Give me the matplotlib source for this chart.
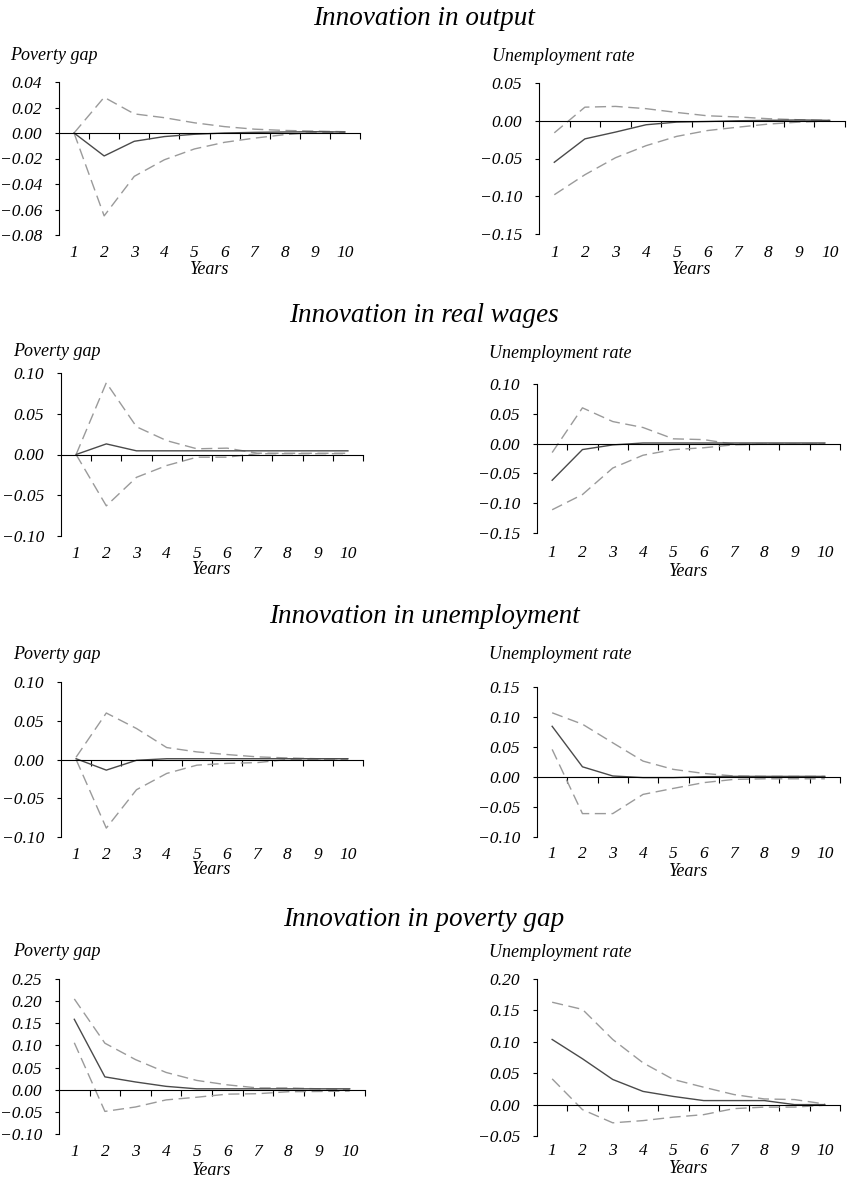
import numpy as np
import matplotlib
matplotlib.use("Agg")
import matplotlib.pyplot as plt
from matplotlib.ticker import FuncFormatter, FixedLocator

# ---------------- data ----------------
years = [1, 2, 3, 4, 5, 6, 7, 8, 9, 10]
year_labels = ["1", "2", "3", "4", "5", "6", "7", "8", "9", "10"]

titles = ["Innovation in output", "Innovation in real wages",
          "Innovation in unemployment", "Innovation in poverty gap"]
ylabels = ["Poverty gap", "Unemployment rate"]
xlabel = "Years"

# Innovation in output
out_pov_mid = [0.0, -0.018, -0.0065, -0.0028, -0.001, 0.0, 0.0005, 0.0008, 0.001, 0.0008]
out_pov_up = [0.0, 0.028, 0.015, 0.012, 0.008, 0.005, 0.003, 0.002, 0.0015, 0.001]
out_pov_lo = [0.0, -0.065, -0.034, -0.021, -0.0125, -0.0073, -0.004, -0.0013, 0.0005, 0.0005]
out_un_mid = [-0.055, -0.024, -0.015, -0.0053, -0.0018, -0.001, 0.0, 0.0005, 0.001, 0.0005]
out_un_up = [-0.016, 0.018, 0.019, 0.016, 0.011, 0.0066, 0.005, 0.0027, 0.0013, 0.0005]
out_un_lo = [-0.098, -0.0715, -0.049, -0.033, -0.0207, -0.013, -0.0085, -0.0044, -0.0018, -0.0005]

# Innovation in real wages
wag_pov_mid = [0.0, 0.013, 0.0045, 0.0045, 0.0045, 0.0045, 0.0045, 0.0045, 0.0045, 0.0045]
wag_pov_up = [0.0, 0.088, 0.034, 0.017, 0.007, 0.0078, 0.0016, 0.0015, 0.0015, 0.0015]
wag_pov_lo = [0.0, -0.063, -0.028, -0.0135, -0.0033, -0.0033, 0.001, 0.001, 0.001, 0.001]
wag_un_mid = [-0.0615, -0.010, -0.0022, 0.001, 0.001, 0.001, 0.001, 0.001, 0.001, 0.001]
wag_un_up = [-0.015, 0.060, 0.037, 0.027, 0.008, 0.0067, -0.001, -0.001, -0.001, -0.001]
wag_un_lo = [-0.111, -0.0855, -0.041, -0.0195, -0.010, -0.007, -0.002, -0.001, -0.001, -0.001]

# Innovation in unemployment
une_pov_mid = [0.001, -0.0137, -0.001, 0.001, 0.001, 0.001, 0.001, 0.001, 0.001, 0.001]
une_pov_up = [0.003, 0.060, 0.040, 0.0154, 0.0098, 0.0064, 0.0034, 0.002, 0.001, 0.001]
une_pov_lo = [0.0, -0.0885, -0.039, -0.018, -0.0073, -0.005, -0.004, 0.0, 0.0, 0.0]
une_un_mid = [0.0845, 0.017, 0.0017, -0.001, -0.001, 0.0005, 0.001, 0.001, 0.001, 0.001]
une_un_up = [0.107, 0.088, 0.057, 0.0265, 0.0127, 0.006, 0.0017, 0.001, 0.001, 0.001]
une_un_lo = [0.046, -0.061, -0.061, -0.029, -0.019, -0.0094, -0.004, -0.003, -0.003, -0.003]

# Innovation in poverty gap
pov_pov_mid = [0.159, 0.029, 0.0175, 0.0076, 0.002, 0.002, 0.002, 0.002, 0.002, 0.002]
pov_pov_up = [0.205, 0.105, 0.068, 0.039, 0.021, 0.011, 0.004, 0.004, 0.002, 0.0]
pov_pov_lo = [0.106, -0.049, -0.039, -0.023, -0.017, -0.010, -0.009, -0.0045, -0.004, -0.003]
pov_un_mid = [0.1037, 0.073, 0.040, 0.021, 0.013, 0.0064, 0.0064, 0.0064, 0.0, 0.0]
pov_un_up = [0.163, 0.1516, 0.1037, 0.0665, 0.040, 0.0277, 0.016, 0.009, 0.008, 0.001]
pov_un_lo = [0.041, -0.008, -0.029, -0.0255, -0.020, -0.016, -0.0064, -0.004, -0.004, -0.001]

# y ranges / tick steps per panel
ylims = [(-0.08, 0.04), (-0.15, 0.05), (-0.10, 0.10), (-0.15, 0.10),
         (-0.10, 0.10), (-0.10, 0.15), (-0.10, 0.25), (-0.05, 0.20)]
ysteps = [0.02, 0.05, 0.05, 0.05, 0.05, 0.05, 0.05, 0.05]

series = [
    (out_pov_mid, out_pov_up, out_pov_lo), (out_un_mid, out_un_up, out_un_lo),
    (wag_pov_mid, wag_pov_up, wag_pov_lo), (wag_un_mid, wag_un_up, wag_un_lo),
    (une_pov_mid, une_pov_up, une_pov_lo), (une_un_mid, une_un_up, une_un_lo),
    (pov_pov_mid, pov_pov_up, pov_pov_lo), (pov_un_mid, pov_un_up, pov_un_lo),
]

# ---------------- layout (pixels) ----------------
W, H = 848, 1177
# left, right, top, bottom of plot box
boxes = [(59, 360, 82, 235), (539, 845, 83, 234),
         (61, 363, 373, 536), (537, 840, 384, 533),
         (61, 363, 682, 837), (537, 840, 687, 837),
         (59, 365, 979, 1134), (537, 840, 979, 1136)]
ticklabel_center = [250.7, 250.7, 551.7, 550.7, 853, 851.7, 1150, 1149]
xlabel_base = [274, 274, 574, 576, 874, 876, 1175, 1173]
ylabel_pos = [(10, 60), (491.7, 60.7), (12.7, 356), (489.3, 358.3),
              (12.7, 659.3), (489.3, 659.3), (12.7, 955.7), (489.3, 956.7)]
title_base = [25, 321.7, 623, 926]

FONT = "Liberation Serif"
plt.rcParams["font.family"] = [FONT, "DejaVu Serif"]
plt.rcParams["font.style"] = "italic"
plt.rcParams["axes.unicode_minus"] = True

fig = plt.figure(figsize=(W / 100, H / 100), dpi=100)
PX = 72 / 100  # points per pixel

def fmt(v, pos):
    s = "%.2f" % v
    if s.startswith("-"):
        s = "\u2212" + s[1:]
    if s == "\u22120.00":
        s = "0.00"
    return s

for i, ((l, r, t, b), (mid, up, lo)) in enumerate(zip(boxes, series)):
    ax = fig.add_axes([l / W, 1 - b / H, (r - l) / W, (b - t) / H])
    ax.plot(years, up, color="#9a9a9a", lw=1.0, dashes=(8, 4))
    ax.plot(years, lo, color="#9a9a9a", lw=1.0, dashes=(8, 4))
    ax.plot(years, mid, color="#4a4a4a", lw=1.0)
    ax.set_xlim(0.5, 10.5)
    y0, y1 = ylims[i]
    ax.set_ylim(y0, y1)
    nst = int(round((y1 - y0) / ysteps[i]))
    ax.yaxis.set_major_locator(FixedLocator([y0 + k * ysteps[i] for k in range(nst + 1)]))
    ax.yaxis.set_major_formatter(FuncFormatter(fmt))
    ax.tick_params(axis="y", direction="out", length=3, width=0.8, pad=9,
                   labelsize=12.5, colors="black")
    for lab in ax.get_yticklabels():
        lab.set_fontstyle("italic")
    ax.spines["top"].set_visible(False)
    ax.spines["right"].set_visible(False)
    ax.spines["left"].set_linewidth(0.8)
    ax.spines["bottom"].set_position(("data", 0))
    ax.spines["bottom"].set_linewidth(0.8)
    ax.xaxis.set_major_locator(FixedLocator([k + 0.5 for k in range(1, 11)]))
    ax.tick_params(axis="x", direction="out", length=4, width=0.8, labelbottom=False)
    # category labels at the bottom of the box
    sec = ax.secondary_xaxis("bottom")
    sec.spines["bottom"].set_visible(False)
    sec.set_xticks(years, year_labels)
    pad_px = ticklabel_center[i] - b - 6
    sec.tick_params(axis="x", length=0, pad=pad_px * PX, labelsize=12.5)
    for lab in sec.get_xticklabels():
        lab.set_fontstyle("italic")
    fig.text((l + r) / 2 / W, 1 - xlabel_base[i] / H, xlabel, ha="center",
             va="baseline", fontsize=13, style="italic")
    yx, yy = ylabel_pos[i]
    fig.text(yx / W, 1 - yy / H, ylabels[i % 2], ha="left", va="baseline",
             fontsize=13, style="italic")

for j, tt in enumerate(titles):
    fig.text(0.5, 1 - title_base[j] / H, tt, ha="center", va="baseline",
             fontsize=19.5, style="italic")

fig.savefig("out.png", dpi=100)
